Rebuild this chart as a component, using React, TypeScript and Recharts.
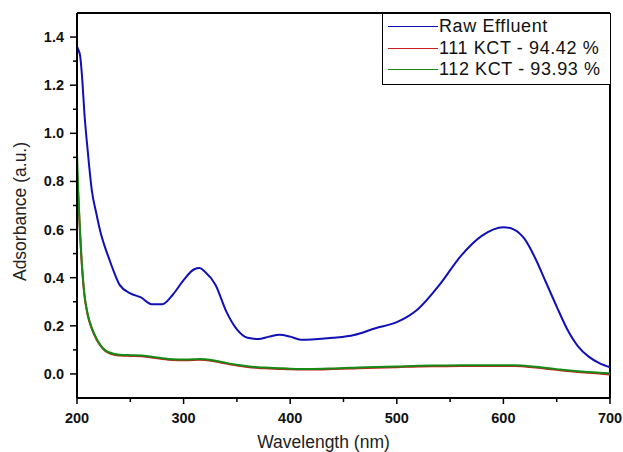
import {
  LineChart,
  Line,
  XAxis,
  YAxis,
  ReferenceLine,
} from "recharts";

// wavelength grid (nm)
const wavelengths = [
  200, 201, 203, 205, 207, 210, 214, 218, 222, 226, 230, 235, 240, 250, 260,
  270, 280, 290, 300, 310, 315, 320, 330, 340, 350, 360, 370, 380, 390, 400,
  410, 420, 440, 460, 480, 500, 520, 540, 560, 580, 600, 610, 620, 630, 640,
  650, 660, 670, 680, 690, 700,
];

const rawEffluent = [
  1.36, 1.35, 1.32, 1.22, 1.08, 0.93, 0.76, 0.67, 0.59, 0.53, 0.48, 0.42,
  0.37, 0.335, 0.318, 0.29, 0.29, 0.33, 0.39, 0.435, 0.44, 0.425, 0.37,
  0.26, 0.185, 0.15, 0.145, 0.155, 0.163, 0.155, 0.142, 0.143, 0.15, 0.162,
  0.19, 0.215, 0.27, 0.37, 0.49, 0.575, 0.61, 0.6, 0.56, 0.48, 0.38,
  0.28, 0.185, 0.115, 0.072, 0.045, 0.028,
];

const kct111 = [
  0.84, 0.76, 0.57, 0.425, 0.325, 0.245, 0.186, 0.146, 0.117, 0.097, 0.087,
  0.08, 0.077, 0.075, 0.074, 0.068, 0.062, 0.058, 0.057, 0.058, 0.059, 0.058,
  0.052, 0.043, 0.035, 0.029, 0.025, 0.023, 0.021, 0.019, 0.018, 0.018, 0.02,
  0.023, 0.026, 0.028, 0.031, 0.032, 0.033, 0.033, 0.033, 0.033, 0.031,
  0.027, 0.022, 0.017, 0.012, 0.008, 0.005, 0.002, -0.002,
];

const kct112 = [
  0.92, 0.78, 0.58, 0.43, 0.33, 0.25, 0.19, 0.15, 0.12, 0.1, 0.09, 0.083,
  0.08, 0.078, 0.077, 0.071, 0.065, 0.061, 0.06, 0.061, 0.062, 0.061, 0.055,
  0.046, 0.038, 0.032, 0.028, 0.026, 0.024, 0.022, 0.021, 0.021, 0.023,
  0.026, 0.029, 0.031, 0.034, 0.035, 0.036, 0.036, 0.036, 0.036, 0.034,
  0.03, 0.025, 0.02, 0.015, 0.011, 0.008, 0.005, 0.003,
];

const xTicks = [200, 250, 300, 350, 400, 450, 500, 550, 600, 650, 700];
const yTicks = [
  0, 0.1, 0.2, 0.3, 0.4, 0.5, 0.6, 0.7, 0.8, 0.9, 1.0, 1.1, 1.2, 1.3, 1.4,
];

const series = [
  { key: "raw", name: "Raw Effluent", color: "#1010b8" },
  { key: "k111", name: "111 KCT - 94.42 %", color: "#c81e1e" },
  { key: "k112", name: "112 KCT - 93.93 %", color: "#168a16" },
];

const data = wavelengths.map((wl, i) => ({
  wl,
  raw: rawEffluent[i],
  k111: kct111[i],
  k112: kct112[i],
}));

const font = "'Liberation Sans', Arial, sans-serif";

function XTick(props: any) {
  const { x, y, payload } = props;
  const major = payload.value % 100 === 0;
  return (
    <g>
      <line x1={x} x2={x} y1={y} y2={y + (major ? 6 : 4)} stroke="#000" strokeWidth={1.5} />
      {major && (
        <text x={x} y={y + 25} textAnchor="middle" fontFamily={font} fontWeight="bold" fontSize={14.5} fill="#111">
          {payload.value}
        </text>
      )}
    </g>
  );
}

function YTick(props: any) {
  const { x, y, payload } = props;
  const major = Math.round(payload.value * 10) % 2 === 0;
  return (
    <g>
      <line x1={x - (major ? 7 : 4)} x2={x} y1={y} y2={y} stroke="#000" strokeWidth={1.5} />
      {major && (
        <text x={x - 13} y={y + 5} textAnchor="end" fontFamily={font} fontWeight="bold" fontSize={14.5} fill="#111">
          {payload.value.toFixed(1)}
        </text>
      )}
    </g>
  );
}

function LegendBox() {
  return (
    <div
      style={{
        position: "absolute",
        top: 13,
        left: 382,
        width: 222,
        border: "1px solid #000",
        borderRight: "none",
        background: "#fff",
        padding: "2px 0 3px 5px",
        fontFamily: font,
        fontSize: 18,
        letterSpacing: 0.6,
        lineHeight: "21.5px",
        color: "#111",
        whiteSpace: "nowrap",
      }}
    >
      {series.map((s) => (
        <div key={s.key} style={{ display: "flex", alignItems: "center" }}>
          <span style={{ display: "inline-block", width: 50, height: 0, borderTop: `1.5px solid ${s.color}`, marginRight: 1 }} />
          <span>{s.name}</span>
        </div>
      ))}
    </div>
  );
}

export default function App() {
  return (
    <div style={{ position: "absolute", left: 0, top: 0, width: 623, height: 452, background: "#fff" }}>
      <LineChart
        width={623}
        height={452}
        data={data}
        margin={{ top: 13, right: 13, bottom: 0, left: 0 }}
      >
        <XAxis
          dataKey="wl"
          type="number"
          domain={[200, 700]}
          ticks={xTicks}
          interval={0}
          height={54}
          stroke="#000"
          strokeWidth={2}
          tickLine={false}
          tickSize={0}
          tickMargin={0}
          tick={<XTick />}
          label={{
            value: "Wavelength (nm)",
            position: "insideBottom",
            offset: 4,
            dx: -20,
            fill: "#222",
            fontSize: 17.5,
            fontFamily: font,
          }}
        />
        <YAxis
          type="number"
          domain={[-0.1, 1.5]}
          ticks={yTicks}
          interval={0}
          width={77}
          stroke="#000"
          strokeWidth={2}
          tickLine={false}
          tickSize={0}
          tickMargin={0}
          tick={<YTick />}
          allowDataOverflow
          label={{
            content: (p: any) => {
              const vb = p.viewBox;
              const cx = vb.x + 20;
              const cy = vb.y + vb.height / 2 + 6;
              return (
                <text
                  x={cx}
                  y={cy}
                  transform={`rotate(-90 ${cx} ${cy})`}
                  textAnchor="middle"
                  dominantBaseline="central"
                  fontFamily={font}
                  fontSize={17.5}
                  fill="#222"
                >
                  Adsorbance (a.u.)
                </text>
              );
            },
          }}
        />
        <ReferenceLine y={1.5} stroke="#000" strokeWidth={2} />
        <ReferenceLine x={700} stroke="#000" strokeWidth={2} />
        <Line
          dataKey="raw"
          name={series[0].name}
          type="monotone"
          stroke={series[0].color}
          strokeWidth={2}
          dot={false}
          isAnimationActive={false}
        />
        <Line
          dataKey="k111"
          name={series[1].name}
          type="monotone"
          stroke={series[1].color}
          strokeWidth={2}
          dot={false}
          isAnimationActive={false}
        />
        <Line
          dataKey="k112"
          name={series[2].name}
          type="monotone"
          stroke={series[2].color}
          strokeWidth={2}
          dot={false}
          isAnimationActive={false}
        />
      </LineChart>
      <LegendBox />
    </div>
  );
}
